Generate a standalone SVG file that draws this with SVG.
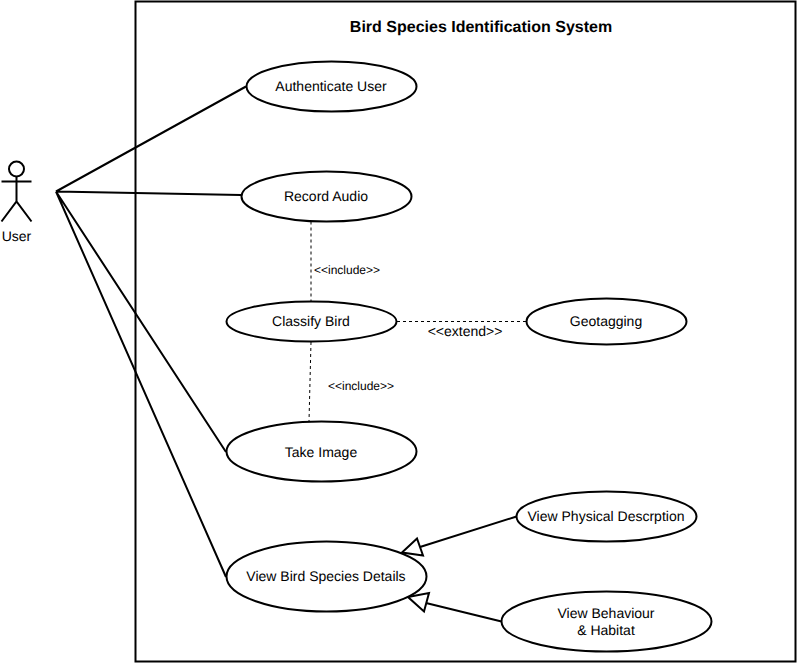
<svg xmlns="http://www.w3.org/2000/svg" width="797" height="663" viewBox="0 0 797 663">
<style>
text{font-family:"Liberation Sans",Arial,sans-serif;font-size:14px;fill:#000;text-anchor:middle;text-rendering:geometricPrecision}
.s{font-size:12px}
.t{font-size:16px;font-weight:bold}
.n{fill:#fff;stroke:#000;stroke-width:2}
.c{fill:none;stroke:#000;stroke-width:2}
.d{fill:none;stroke:#000;stroke-width:1;stroke-dasharray:3 3}
.h{fill:#fff;stroke:#000;stroke-width:2}
</style>
<rect width="797" height="663" fill="#fff"/>
<g id="system"><rect x="135.500" y="1.500" width="660" height="660" fill="#fff" stroke="#000" stroke-width="2"/><text class="t" x="481" y="32">Bird Species Identification System</text></g>
<g id="connectors">
<path class="c" d="M56 191.500L246 86.500M56 191.500L241 195M56 191.500L226 452M56 191.500L226 577"/>
<path class="d" d="M311 221.500V301.500M311 342L309 421.500M397 321.500H526"/>
<path class="c" d="M516.500 516.500L420 547M501.500 621.500L426 603"/>
<path class="h" d="M402 552.500L417 538.500L423 555.500ZM408 597L429 593L424 611.500Z"/>
<text class="s" x="347" y="274">&lt;&lt;include&gt;&gt;</text>
<text class="s" x="361" y="390">&lt;&lt;include&gt;&gt;</text>
<text x="465" y="336">&lt;&lt;extend&gt;&gt;</text>
</g>
<g id="actor-user"><circle class="c" cx="16.500" cy="169" r="7.500"/><path class="c" d="M16.500 176.500V201.500M1.500 181.500H31.500M1.500 221.500L16.500 201.500L31.500 221.500"/><text x="16.500" y="241">User</text></g>
<g id="uc-authenticate"><ellipse class="n" cx="331.500" cy="86.500" rx="85" ry="25"/><text x="331" y="91">Authenticate User</text></g>
<g id="uc-record"><ellipse class="n" cx="326.500" cy="196.500" rx="85" ry="25"/><text x="326" y="201">Record Audio</text></g>
<g id="uc-classify"><ellipse class="n" cx="311.500" cy="321.500" rx="85" ry="20"/><text x="311" y="326">Classify Bird</text></g>
<g id="uc-geotagging"><ellipse class="n" cx="606.500" cy="321.500" rx="80" ry="23"/><text x="606" y="326">Geotagging</text></g>
<g id="uc-image"><ellipse class="n" cx="321.500" cy="451.500" rx="95" ry="30"/><text x="321" y="457">Take Image</text></g>
<g id="uc-details"><ellipse class="n" cx="326.500" cy="576.500" rx="100" ry="35"/><text x="326" y="581">View Bird Species Details</text></g>
<g id="uc-physical"><ellipse class="n" cx="606.500" cy="516.500" rx="90" ry="25"/><text x="606" y="521">View Physical Descrption</text></g>
<g id="uc-behaviour"><ellipse class="n" cx="606.500" cy="621.500" rx="105" ry="30"/><text x="606" y="618">View Behaviour</text><text x="606" y="635">&amp; Habitat</text></g>
</svg>
